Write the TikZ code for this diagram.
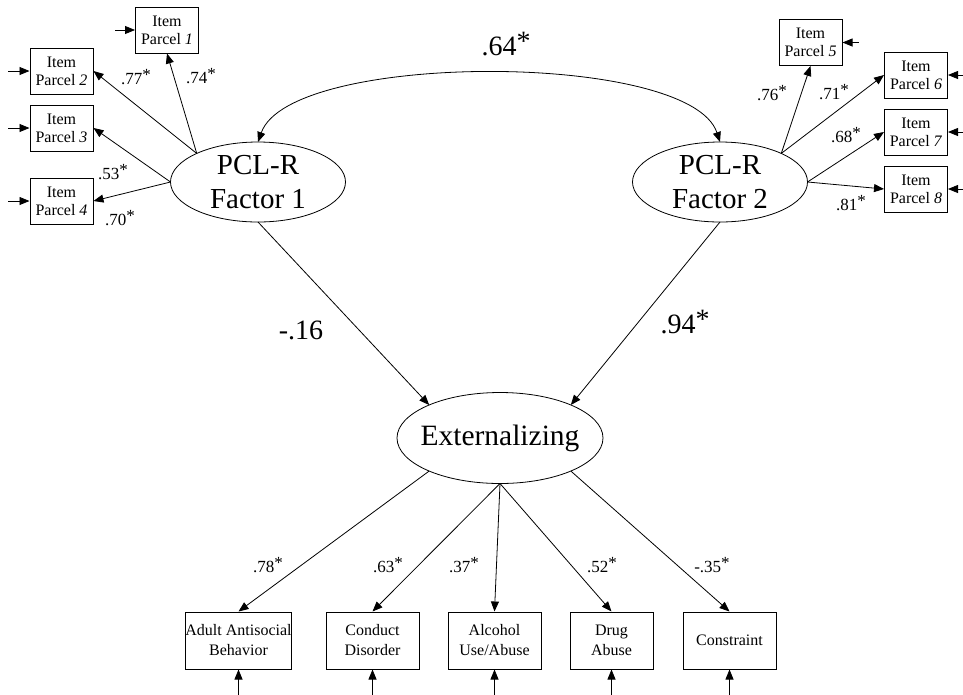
\documentclass[tikz,border=0pt]{standalone}
\usepackage{fontspec}
\setmainfont{Liberation Serif}
\usetikzlibrary{arrows.meta,positioning,shapes.geometric}
\tikzset{
	parcel/.style={draw, line width=1pt, minimum width=63pt, minimum height=46pt,
		inner sep=0, align=center, font=\fontsize{16}{18}\selectfont},
	indic/.style={draw, line width=1pt, minimum width=93pt, minimum height=57pt,
		inner sep=0, align=center, font=\fontsize{16}{20}\selectfont},
	factor/.style={draw, ellipse, line width=0.8pt, inner sep=0, outer sep=0,
		minimum width=175pt, minimum height=80pt, align=center,
		font=\fontsize{29}{34}\selectfont},
	coef/.style={inner sep=0, font=\fontsize{17}{20}\selectfont},
	bigcoef/.style={inner sep=0, font=\fontsize{28}{32}\selectfont}
}
\newcommand{\sig}{\raisebox{0.2em}{*}}

\begin{document}
\begin{tikzpicture}[x=1pt, y=-1pt, line width=0.8pt,
		>={Triangle[length=10pt,width=8pt]}]
	\useasboundingbox (0,0) rectangle (963,694);

	% latent factors
	\node[factor] (f1) at (258,182) {PCL-R\\Factor 1};
	\node[factor] (f2) at (720,182) {PCL-R\\Factor 2};
	\node[factor, inner xsep=-8pt, minimum width=206pt, minimum height=91pt,
		font=\fontsize{29.5}{33}\selectfont] (ext) at (500,438) {Externalizing};

	% item parcels
	\node[parcel] (p1) at (167,30) {Item\\Parcel \textit{1}};
	\node[parcel] (p2) at (61.5,71) {Item\\Parcel \textit{2}};
	\node[parcel] (p3) at (61.5,128) {Item\\Parcel \textit{3}};
	\node[parcel] (p4) at (61.5,201) {Item\\Parcel \textit{4}};
	\node[parcel] (p5) at (810.5,42.5) {Item\\Parcel \textit{5}};
	\node[parcel] (p6) at (916,75) {Item\\Parcel \textit{6}};
	\node[parcel] (p7) at (916,132) {Item\\Parcel \textit{7}};
	\node[parcel] (p8) at (916,189) {Item\\Parcel \textit{8}};

	% externalizing indicators
	\node[indic] (aab) at (238.5,640.5) {Adult Antisocial\\Behavior};
	\node[indic] (cd) at (372.5,640.5) {Conduct\\Disorder};
	\node[indic] (alc) at (494.5,640.5) {Alcohol\\Use/Abuse};
	\node[indic, minimum width=83pt] (drug) at (611.5,640.5) {Drug\\Abuse};
	\node[indic] (con) at (729.5,640.5) {Constraint};

	% loadings
	\draw[->] (f1.155) -- (p1.south);
	\draw[->] (f1.155) -- (p2.east);
	\draw[->] (f1.west) -- (p3.east);
	\draw[->] (f1.west) -- (p4.east);
	\draw[->] (f2.25) -- (p5.south);
	\draw[->] (f2.25) -- (p6.west);
	\draw[->] (f2.east) -- (p7.west);
	\draw[->] (f2.east) -- (p8.west);

	\draw[<->] (f1.north) .. controls (290,51) and (690,51) .. (f2.north);

	\draw[->] (f1.south) -- (ext.155);
	\draw[->] (f2.south) -- (ext.25);

	\draw[->] (ext.205) -- (aab.north);
	\draw[->] (ext.south) -- (cd.north);
	\draw[->] (ext.south) -- (alc.north);
	\draw[->] (ext.south) -- (drug.north);
	\draw[->] (ext.-25) -- (con.north);

	% residuals
	\draw[<-] (p1.west) -- +(-20,0);
	\foreach \p in {p2,p3,p4}
		\draw[<-] (\p.west) -- +(-22,0);
	\draw[<-] (p5.east) -- +(16,0);
	\foreach \p in {p6,p7,p8}
		\draw[<-] (\p.east) -- +(16,0);
	\foreach \p in {aab,cd,alc,drug,con}
		\draw[<-] (\p.south) -- +(0,26);

	% coefficients
	\node[coef] (c1) at (201,76) {.74\sig};
	\node[coef] (c2) at (136,77) {.77\sig};
	\node[coef] (c3) at (113,172) {.53\sig};
	\node[coef] (c4) at (120,218) {.70\sig};
	\node[coef] (c5) at (772,93) {.76\sig};
	\node[coef] (c6) at (834,92) {.71\sig};
	\node[coef] (c7) at (846,135) {.68\sig};
	\node[coef] (c8) at (851,203) {.81\sig};
	\node[coef] (c9) at (268,565) {.78\sig};
	\node[coef] (c10) at (388,565) {.63\sig};
	\node[coef] (c11) at (464,565) {.37\sig};
	\node[coef] (c12) at (602,565) {.52\sig};
	\node[coef] (c13) at (712,565) {-.35\sig};
	\node[bigcoef] (r12) at (506,44) {.64\sig};
	\node[bigcoef] (b1) at (301,330) {-.16};
	\node[bigcoef] (b2) at (685,322) {.94\sig};
\end{tikzpicture}
\end{document}
